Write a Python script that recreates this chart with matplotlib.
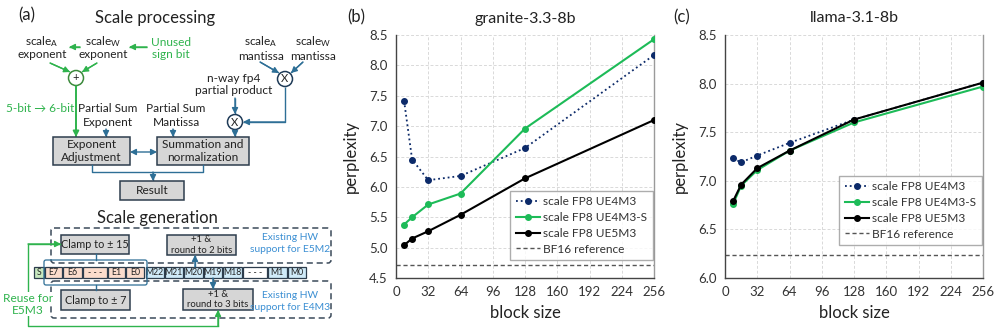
import matplotlib
matplotlib.use("Agg")
import matplotlib.pyplot as plt
from matplotlib.patches import Rectangle, FancyBboxPatch, Circle

plt.rcParams['font.family'] = ['Lato', 'DejaVu Sans']
plt.rcParams['mathtext.fontset'] = 'custom'
plt.rcParams['mathtext.rm'] = 'Lato'
plt.rcParams['mathtext.it'] = 'Lato'

# ---------------- data ----------------
block_sizes = [8, 16, 32, 64, 128, 256]
x_ticks = [0, 32, 64, 96, 128, 160, 192, 224, 256]
series_labels = ["scale FP8 UE4M3", "scale FP8 UE4M3-S", "scale FP8 UE5M3"]
bf16_label = "BF16 reference"

granite_ue4m3 = [7.42, 6.45, 6.11, 6.18, 6.64, 8.17]
granite_ue4m3s = [5.38, 5.50, 5.71, 5.89, 6.96, 8.43]
granite_ue5m3 = [5.04, 5.15, 5.27, 5.54, 6.14, 7.10]
granite_bf16 = 4.72

llama_ue4m3 = [7.23, 7.19, 7.26, 7.39, 7.63, 8.01]
llama_ue4m3s = [6.76, 6.95, 7.11, 7.31, 7.60, 7.97]
llama_ue5m3 = [6.79, 6.96, 7.13, 7.31, 7.63, 8.01]
llama_bf16 = 6.24

exp_bits = ["E7", "E6", "- - -", "E1", "E0"]
man_bits = ["M22", "M21", "M20", "M19", "M18", "- - -", "M1", "M0"]

NAVY = '#0c2a69'
GREEN = '#1dbb58'
BLACK = '#000000'
STEEL = '#2e6f96'
DGREEN = '#2fb34d'
EDGE = '#2d3d4d'
BOXFILL = '#d6d6d6'
BLUETXT = '#3b8fd3'

fig = plt.figure(figsize=(9.96, 3.33), dpi=100)
W, H = 996, 333

def fig_axes(l, r, t, b):
    return fig.add_axes([l / W, (H - b) / H, (r - l) / W, (b - t) / H])

# ---------------- line charts ----------------
def chart(ax, ue4m3, ue4m3s, ue5m3, bf16, ylim, yticks, title, legend_anchor):
    ax.plot(block_sizes, ue4m3, ':', color=NAVY, lw=1.3, marker='o', ms=4, label=series_labels[0], zorder=3)
    ax.plot(block_sizes, ue4m3s, '-', color=GREEN, lw=1.5, marker='o', ms=4, label=series_labels[1], zorder=3)
    ax.plot(block_sizes, ue5m3, '-', color=BLACK, lw=1.5, marker='o', ms=4, label=series_labels[2], zorder=4)
    ax.axhline(bf16, color='#555555', lw=1.0, ls=(0, (3, 2)), label=bf16_label, zorder=2)
    ax.set_xlim(0, 256)
    ax.set_ylim(*ylim)
    ax.set_xticks(x_ticks)
    ax.set_yticks(yticks)
    ax.set_yticklabels([f"{v:.1f}" for v in yticks])
    ax.grid(True, color='#d9d9d9', ls=(0, (3, 2)), lw=0.7)
    ax.set_axisbelow(True)
    ax.tick_params(length=0, labelsize=9.5, colors='#333333', pad=6)
    for s in ['left', 'bottom']:
        ax.spines[s].set_color('#444444')
        ax.spines[s].set_linewidth(1.0)
    ax.spines['right'].set_color('#9a9a9a')
    ax.spines['right'].set_linewidth(1.0)
    ax.spines['top'].set_visible(False)
    ax.set_xlabel("block size", fontsize=12, color='#222222', labelpad=5)
    ax.set_ylabel("perplexity", fontsize=12, color='#222222', labelpad=7)
    ax.set_title(title, fontsize=11.5, color='#222222', pad=9)
    leg = ax.legend(loc='lower right', bbox_to_anchor=legend_anchor, fontsize=8.6,
                    frameon=True, fancybox=False, edgecolor='#999999',
                    handlelength=2.0, borderpad=0.45, labelspacing=0.4,
                    handletextpad=0.3, borderaxespad=0)
    leg.get_frame().set_linewidth(1.0)
    for t in leg.get_texts():
        t.set_color('#333333')

axb = fig_axes(396, 654, 35, 278)
chart(axb, granite_ue4m3, granite_ue4m3s, granite_ue5m3, granite_bf16,
      (4.5, 8.5), [4.5, 5.0, 5.5, 6.0, 6.5, 7.0, 7.5, 8.0, 8.5], "granite-3.3-8b",
      (0.995, 0.074))
axc = fig_axes(725, 983, 35, 278)
chart(axc, llama_ue4m3, llama_ue4m3s, llama_ue5m3, llama_bf16,
      (6.0, 8.5), [6.0, 6.5, 7.0, 7.5, 8.0, 8.5], "llama-3.1-8b",
      (0.995, 0.136))
fig.text(356 / W, 1 - 17 / H, "(b)", fontsize=12, ha='center', va='center', color='#222222')
fig.text(682 / W, 1 - 17 / H, "(c)", fontsize=12, ha='center', va='center', color='#222222')

# ---------------- diagram (a) ----------------
ax = fig.add_axes([0, 0, 340 / W, 1])
ax.set_xlim(0, 340)
ax.set_ylim(333, 0)
ax.axis('off')

FS = 8.6

def txt(x, y, s, color='#222222', fs=FS, **kw):
    ax.text(x, y, s, color=color, fontsize=fs, ha='center', va='center', **kw)

def arrow(pts, color, lw=1.0):
    xs = [p[0] for p in pts]
    ys = [p[1] for p in pts]
    ax.plot(xs, ys, color=color, lw=lw, solid_capstyle='butt')
    ax.annotate("", xy=pts[-1], xytext=pts[-2],
                arrowprops=dict(arrowstyle='-|>,head_length=0.35,head_width=0.18',
                                color=color, lw=lw, shrinkA=0, shrinkB=0))

def box(x0, y0, x1, y1, lines, fs=FS, gap=None):
    ax.add_patch(Rectangle((x0, y0), x1 - x0, y1 - y0, facecolor=BOXFILL, edgecolor=EDGE, lw=1.1, zorder=2))
    n = len(lines)
    cy = (y0 + y1) / 2
    if gap is None:
        gap = (y1 - y0) / (n + 0.6)
    for i, l in enumerate(lines):
        yy = cy + (i - (n - 1) / 2) * gap
        txt((x0 + x1) / 2, yy, l, fs=fs, zorder=3)

ax.text(27, 15, "(a)", fontsize=12, ha='center', va='center', color='#222222')
txt(155, 18, "Scale processing", fs=12)

# exponent path
txt(42, 42, r"scale$_\mathrm{A}$")
txt(42, 54, "exponent")
txt(103, 42, r"scale$_\mathrm{W}$")
txt(103, 54, "exponent")
txt(171, 42, "Unused", color=DGREEN)
txt(171, 54, "sign bit", color=DGREEN)
arrow([(147, 47), (129, 47)], DGREEN)
arrow([(80, 47), (69, 47)], DGREEN)
arrow([(50, 63), (70, 72)], DGREEN)
arrow([(97, 63), (82, 72)], DGREEN)
ax.add_patch(Circle((76, 78), 7.5, facecolor='white', edgecolor='#3c8a3c', lw=1.1, zorder=3))
txt(76, 78, "+", fs=8, zorder=4)
arrow([(76, 86), (76, 137)], DGREEN, lw=1.2)
txt(40, 108, "5-bit \u2192 6-bit", color=DGREEN)
txt(108, 108, "Partial Sum")
txt(108, 122, "Exponent")
arrow([(106, 129), (106, 137)], STEEL)
txt(176, 108, "Partial Sum")
txt(176, 122, "Mantissa")
arrow([(173, 129), (173, 137)], STEEL)

# mantissa path
txt(261, 42, r"scale$_\mathrm{A}$")
txt(261, 56, "mantissa")
txt(313, 42, r"scale$_\mathrm{W}$")
txt(313, 56, "mantissa")
arrow([(260, 62), (279, 73)], STEEL)
arrow([(303, 62), (291, 73)], STEEL)
ax.add_patch(Circle((285, 79), 7.5, facecolor='white', edgecolor='#1f3b57', lw=1.1, zorder=3))
txt(285, 79, "X", fs=8, zorder=4)
txt(234, 78, "n-way fp4")
txt(234, 91, "partial product")
arrow([(235, 98), (235, 114)], STEEL)
ax.add_patch(Circle((235, 122), 7.5, facecolor='white', edgecolor='#1f3b57', lw=1.1, zorder=3))
txt(235, 122, "X", fs=8, zorder=4)
arrow([(285, 87), (285, 122), (243, 122)], STEEL)
arrow([(235, 130), (235, 137)], STEEL)

box(53, 137, 130, 165, ["Exponent", "Adjustment"], gap=13)
box(157, 137, 249, 165, ["Summation and", "normalization"], gap=13)
ax.annotate("", xy=(130, 152), xytext=(157, 152),
            arrowprops=dict(arrowstyle='<|-|>,head_length=0.35,head_width=0.18', color=STEEL,
                            lw=1.0, shrinkA=0, shrinkB=0))
ax.plot([92, 92, 203, 203], [165, 172, 172, 165], color=STEEL, lw=1.0)
arrow([(153, 172), (153, 181)], STEEL)
box(120, 181, 184, 200, ["Result"])

# scale generation
txt(157, 218, "Scale generation", fs=12)
for (y0, y1) in [(228, 263), (281, 318)]:
    ax.add_patch(FancyBboxPatch((51, y0), 280, y1 - y0, boxstyle='round,pad=0,rounding_size=3',
                                facecolor='none', edgecolor='#3b4a5a', lw=1.1, ls=(0, (4, 2.5)), zorder=1))
box(61, 235, 129, 254, ["Clamp to \u00b1 15"], fs=7.8)
box(167, 235, 236, 255, ["+1 &", "round to 2 bits"], fs=6.8, gap=10.5)
box(61, 290, 130, 310, ["Clamp to \u00b1 7"], fs=7.8)
box(183, 289, 253, 310, ["+1 &", "round to 3 bits"], fs=6.8, gap=10.5)
txt(290, 238, "Existing HW", color=BLUETXT, fs=7.4)
txt(290, 249, "support for E5M2", color=BLUETXT, fs=7.4)
txt(290, 296, "Existing HW", color=BLUETXT, fs=7.4)
txt(290, 307, "support for E4M3", color=BLUETXT, fs=7.4)

# bit row
row_y0, row_y1 = 267, 278
BFS = 6.3
ax.add_patch(Rectangle((34, row_y0), 9.5, row_y1 - row_y0, facecolor='#c8e8c0', edgecolor=EDGE, lw=0.9, zorder=3))
txt(38.8, 272.5, "S", fs=BFS, zorder=4)
exp_edges = [44.5, 63, 83, 107.5, 126, 145]
for i, lab in enumerate(exp_bits):
    ax.add_patch(Rectangle((exp_edges[i], row_y0), exp_edges[i + 1] - exp_edges[i] - 0.8, row_y1 - row_y0,
                           facecolor='#fbdccc', edgecolor=EDGE, lw=0.9, zorder=3))
    txt((exp_edges[i] + exp_edges[i + 1]) / 2 - 0.4, 272.5, lab, fs=BFS, zorder=4)
man_edges = [145.5, 164.5, 184, 203.5, 223, 243, 268, 287.5, 306.5]
for i, lab in enumerate(man_bits):
    fc = 'white' if lab.startswith('-') else '#cfeaf8'
    ax.add_patch(Rectangle((man_edges[i], row_y0), man_edges[i + 1] - man_edges[i] - 0.8, row_y1 - row_y0,
                           facecolor=fc, edgecolor=EDGE, lw=0.9, zorder=3))
    txt((man_edges[i] + man_edges[i + 1]) / 2 - 0.4, 272.5, lab, fs=BFS, zorder=4)
ax.add_patch(FancyBboxPatch((44, 260), 103, 25, boxstyle='round,pad=0,rounding_size=2',
                            facecolor='none', edgecolor=STEEL, lw=0.9, zorder=4))
ax.plot([96, 96], [254, 260], color=STEEL, lw=1.0)
ax.plot([96, 96], [285, 290], color=STEEL, lw=1.0)
arrow([(195, 267), (195, 255)], STEEL)
arrow([(213, 278), (213, 289)], STEEL)

# reuse green path
ax.plot([218, 28, 28], [326, 326, 244], color=DGREEN, lw=1.0)
arrow([(28, 244), (61, 244)], DGREEN)
arrow([(218, 326), (218, 310)], DGREEN)
ax.text(28, 298, "Reuse for", color=DGREEN, fontsize=FS, ha='center', va='center',
        bbox=dict(facecolor='white', edgecolor='none', pad=0.5), zorder=5)
ax.text(28, 310, "E5M3", color=DGREEN, fontsize=FS, ha='center', va='center',
        bbox=dict(facecolor='white', edgecolor='none', pad=0.5), zorder=5)

fig.savefig("out.png", dpi=100)
